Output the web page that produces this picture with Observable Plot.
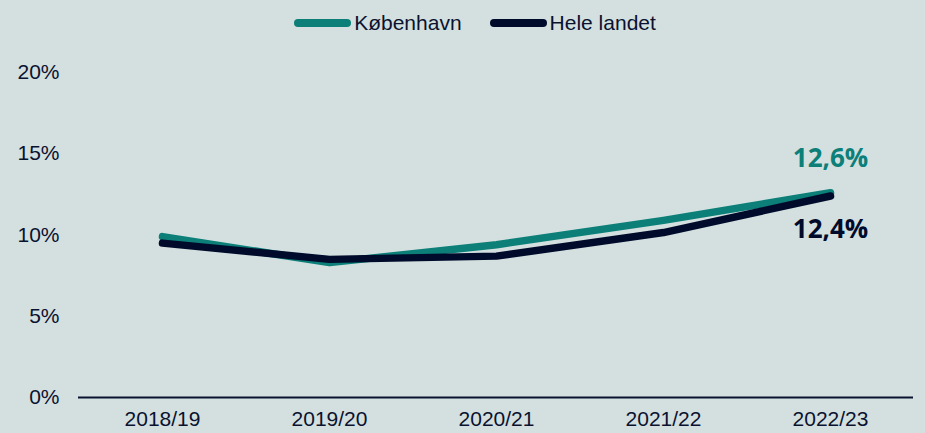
<!DOCTYPE html>
<html><head><meta charset="utf-8">
<script src="https://cdn.jsdelivr.net/npm/d3@7"></script>
<script src="https://cdn.jsdelivr.net/npm/@observablehq/plot@0.6"></script>
<style>
html,body{margin:0;padding:0;background:#d3e0df;overflow:hidden;}
#legend{height:45px;box-sizing:border-box;padding-left:25px;display:flex;justify-content:center;align-items:center;font-family:"Liberation Sans",Arial,sans-serif;font-size:21px;color:#0a1230;}
.item{display:flex;align-items:center;margin:0 14px;}
.sw{width:57px;height:8px;border-radius:4px;margin-right:3px;}
</style></head>
<body>
<div id="legend"></div>
<div id="chart"></div>
<script>
const years = ["2018/19","2019/20","2020/21","2021/22","2022/23"];
const seriesNames = ["København","Hele landet"];
const kobenhavn = [9.9, 8.3, 9.4, 10.9, 12.6];
const heleLandet = [9.5, 8.5, 8.7, 10.15, 12.4];
const endLabels = ["12,6%","12,4%"];
const yTicks = [0,5,10,15,20];
const colors = ["#0b7f78","#000b2b"];

const data = [];
years.forEach((y,i)=>{
  data.push({year:y, value:kobenhavn[i], series:seriesNames[0]});
  data.push({year:y, value:heleLandet[i], series:seriesNames[1]});
});
const labels = [
  {year:years[4], value:kobenhavn[4], text:endLabels[0]},
  {year:years[4], value:heleLandet[4], text:endLabels[1]}
];

const legend = document.getElementById("legend");
seriesNames.forEach((s,i)=>{
  const it = document.createElement("div"); it.className="item";
  const sw = document.createElement("div"); sw.className="sw"; sw.style.background=colors[i];
  const t = document.createElement("span"); t.textContent=s;
  it.appendChild(sw); it.appendChild(t); legend.appendChild(it);
});

const plot = Plot.plot({
  width: 925, height: 388,
  marginTop: 27, marginBottom: 36, marginLeft: 78, marginRight: 12,
  style:{background:"#d3e0df", fontFamily:"'Liberation Sans', Arial, sans-serif", fontSize:"21px", color:"#0a1230", overflow:"visible"},
  x:{type:"point", domain:years, padding:0.5, label:null, tickSize:0, tickPadding:14},
  y:{domain:[0,20], ticks:yTicks, tickFormat:d=>d+"%", label:null, tickSize:0, tickPadding:19},
  color:{domain:seriesNames, range:colors},
  marks:[
    Plot.ruleY([0],{stroke:"#0a1230", strokeWidth:2}),
    Plot.line(data,{x:"year", y:"value", z:"series", stroke:"series", strokeWidth:7.5, strokeLinecap:"round", strokeLinejoin:"round"}),
    Plot.text(labels.slice(0,1),{x:"year", y:"value", text:"text", fill:colors[0], dy:-34, fontSize:26, fontWeight:700, fontFamily:"'Open Sans', sans-serif"}),
    Plot.text(labels.slice(1),{x:"year", y:"value", text:"text", fill:colors[1], dy:34, fontSize:26, fontWeight:700, fontFamily:"'Open Sans', sans-serif"})
  ]
});
document.getElementById("chart").appendChild(plot);
</script>
</body></html>
